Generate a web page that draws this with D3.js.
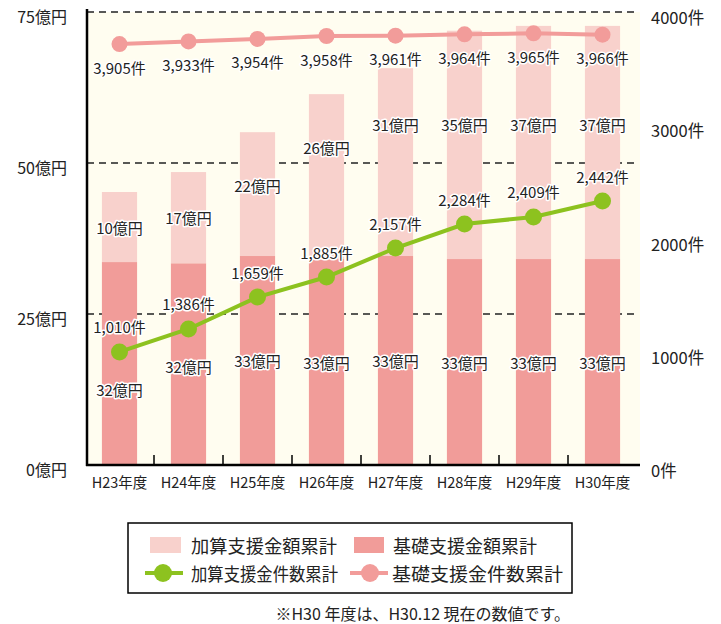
<!DOCTYPE html>
<html>
<head>
<meta charset="utf-8">
<script src="https://cdn.jsdelivr.net/npm/d3@7"></script>
<style>
  body { margin: 0; background: #fff; }
  svg { display: block; font-family: "Noto Sans CJK JP", "Noto Sans", sans-serif; }
  .halo { paint-order: stroke; stroke: #fff; stroke-width: 3px; stroke-linejoin: round; }
</style>
</head>
<body>
<div id="chart"></div>
<script>
// categories and values
const years = ['H23年度', 'H24年度', 'H25年度', 'H26年度', 'H27年度', 'H28年度', 'H29年度', 'H30年度'];

// bar heights as drawn (億円) and the numbers printed on them
const baseAmount = [33.6, 33.4, 34.6, 34.1, 34.6, 34.1, 34.1, 34.1];
const addAmount = [11.6, 15.1, 20.5, 27.3, 31.1, 37.8, 38.6, 38.6];
const baseAmountText = [32, 32, 33, 33, 33, 33, 33, 33];
const addAmountText = [10, 17, 22, 26, 31, 35, 37, 37];

// line points as drawn (件) and the numbers printed next to them
const baseCount = [3717, 3740, 3762, 3788, 3791, 3803, 3812, 3800];
const addCount = [998, 1201, 1483, 1660, 1916, 2128, 2190, 2331];
const baseCountText = [3905, 3933, 3954, 3958, 3961, 3964, 3965, 3966];
const addCountText = [1010, 1386, 1659, 1885, 2157, 2284, 2409, 2442];

const leftTicks = [0, 25, 50, 75];
const rightTicks = [0, 1000, 2000, 3000, 4000];

const legendItems = ['加算支援金額累計', '基礎支援金額累計', '加算支援金件数累計', '基礎支援金件数累計'];
const note = '※H30 年度は、H30.12 現在の数値です。';

const colLight = '#f8d1cc', colDark = '#f19c99', colGreen = '#8dc21f', colPink = '#f29c9a';

const svg = d3.select('#chart').append('svg')
  .attr('width', 721)
  .attr('height', 624);

const x = d3.scaleBand().domain(years).range([85, 637]).paddingInner(0.49).paddingOuter(0.245);
const yL = d3.scaleLinear().domain([0, 75]).range([465, 12]);
const yR = d3.scaleLinear().domain([0, 4000]).range([465, 12]);
const fmt = d3.format(',');

// plot background
svg.append('rect')
  .attr('x', 87).attr('y', yL(75))
  .attr('width', 640 - 87).attr('height', yL(0) - yL(75))
  .attr('fill', '#fffdf0');

// dashed grid
svg.selectAll('.grid')
  .data(leftTicks.filter(d => d > 0))
  .enter().append('line')
  .attr('x1', 87).attr('x2', 639)
  .attr('y1', d => yL(d)).attr('y2', d => yL(d))
  .attr('stroke', '#222').attr('stroke-width', 1.3)
  .attr('stroke-dasharray', '7,5');

// stacked bars
svg.selectAll('.base')
  .data(years).enter().append('rect')
  .attr('x', d => x(d)).attr('width', x.bandwidth())
  .attr('y', (d, i) => yL(baseAmount[i]))
  .attr('height', (d, i) => yL(0) - yL(baseAmount[i]))
  .attr('fill', colDark);

svg.selectAll('.add')
  .data(years).enter().append('rect')
  .attr('x', d => x(d)).attr('width', x.bandwidth())
  .attr('y', (d, i) => yL(baseAmount[i] + addAmount[i]))
  .attr('height', (d, i) => yL(baseAmount[i]) - yL(baseAmount[i] + addAmount[i]))
  .attr('fill', colLight);

// axes
svg.append('line').attr('x1', 87).attr('x2', 87).attr('y1', 9).attr('y2', 466)
  .attr('stroke', '#000').attr('stroke-width', 2.5);
svg.append('line').attr('x1', 86).attr('x2', 640).attr('y1', 465).attr('y2', 465)
  .attr('stroke', '#000').attr('stroke-width', 2.5);
svg.selectAll('.xtick')
  .data(years.slice(1)).enter().append('line')
  .attr('x1', d => x(d) - x.step() * 0.245).attr('x2', d => x(d) - x.step() * 0.245)
  .attr('y1', 455).attr('y2', 465)
  .attr('stroke', '#000').attr('stroke-width', 1.5);

svg.selectAll('.xlab')
  .data(years).enter().append('text')
  .attr('x', d => x(d) + x.bandwidth() / 2).attr('y', 488)
  .attr('text-anchor', 'middle').attr('font-size', 14.5).attr('fill', '#222')
  .text(d => d);

svg.selectAll('.ylab')
  .data(leftTicks).enter().append('text')
  .attr('x', 67).attr('y', d => yL(d) + 11)
  .attr('text-anchor', 'end').attr('font-size', 16).attr('fill', '#222')
  .text(d => d + '億円');

svg.selectAll('.rlab')
  .data(rightTicks).enter().append('text')
  .attr('x', 651).attr('y', d => yR(d) + 12)
  .attr('font-size', 16.5).attr('fill', '#222')
  .text(d => d + '件');

// lines
const cx = d => x(d) + x.bandwidth() / 2;

const pinkLine = d3.line().x(d => cx(d)).y((d, i) => yR(baseCount[i]));
svg.append('path').datum(years).attr('d', pinkLine)
  .attr('fill', 'none').attr('stroke', colPink).attr('stroke-width', 4);
svg.selectAll('.pdot').data(years).enter().append('circle')
  .attr('cx', cx).attr('cy', (d, i) => yR(baseCount[i])).attr('r', 8)
  .attr('fill', colPink);

const greenLine = d3.line().x(d => cx(d)).y((d, i) => yR(addCount[i]));
svg.append('path').datum(years).attr('d', greenLine)
  .attr('fill', 'none').attr('stroke', colGreen).attr('stroke-width', 4);
svg.selectAll('.gdot').data(years).enter().append('circle')
  .attr('cx', cx).attr('cy', (d, i) => yR(addCount[i])).attr('r', 8.5)
  .attr('fill', colGreen);

// value labels
function label(sel) {
  return sel.attr('class', 'halo')
    .attr('text-anchor', 'middle').attr('font-size', 15).attr('fill', '#222')
    .attr('dominant-baseline', 'central');
}

// light-bar labels: centred in the segment, but kept near its top and below the count labels
label(svg.selectAll('.addlab').data(years).enter().append('text'))
  .attr('x', cx)
  .attr('y', (d, i) => {
    const top = yL(baseAmount[i] + addAmount[i]);
    const mid = (yL(baseAmount[i]) + top) / 2;
    return Math.max(124, Math.min(mid, top + 53));
  })
  .text((d, i) => addAmountText[i] + '億円');

label(svg.selectAll('.baselab').data(years).enter().append('text'))
  .attr('x', cx)
  .attr('y', (d, i) => Math.max((yL(0) + yL(baseAmount[i])) / 2, yR(addCount[i]) + 38))
  .text((d, i) => baseAmountText[i] + '億円');

label(svg.selectAll('.pcl').data(years).enter().append('text'))
  .attr('x', cx)
  .attr('y', (d, i) => yR(baseCount[i]) + 23)
  .text((d, i) => fmt(baseCountText[i]) + '件');

label(svg.selectAll('.gcl').data(years).enter().append('text'))
  .attr('x', cx)
  .attr('y', (d, i) => yR(addCount[i]) - 25)
  .text((d, i) => fmt(addCountText[i]) + '件');

// legend
const lg = svg.append('g');
lg.append('rect').attr('x', 128).attr('y', 523).attr('width', 444).attr('height', 70)
  .attr('fill', '#fff').attr('stroke', '#000').attr('stroke-width', 1.5);

lg.append('rect').attr('x', 150).attr('y', 537).attr('width', 31).attr('height', 16).attr('fill', colLight);
lg.append('rect').attr('x', 354).attr('y', 537).attr('width', 30).attr('height', 16).attr('fill', colDark);
lg.append('line').attr('x1', 145).attr('x2', 183).attr('y1', 573).attr('y2', 573)
  .attr('stroke', colGreen).attr('stroke-width', 4);
lg.append('circle').attr('cx', 163).attr('cy', 573).attr('r', 9).attr('fill', colGreen);
lg.append('line').attr('x1', 350).attr('x2', 388).attr('y1', 573).attr('y2', 573)
  .attr('stroke', colPink).attr('stroke-width', 4);
lg.append('circle').attr('cx', 370).attr('cy', 573).attr('r', 9).attr('fill', colPink);

const legendPos = [[191, 545, 146], [393, 545, 144], [191, 573, 147], [392, 573, 171]];
lg.selectAll('.lt').data(legendItems).enter().append('text')
  .attr('x', (d, i) => legendPos[i][0]).attr('y', (d, i) => legendPos[i][1])
  .attr('textLength', (d, i) => legendPos[i][2]).attr('lengthAdjust', 'spacingAndGlyphs')
  .attr('dominant-baseline', 'central')
  .attr('font-size', 18).attr('fill', '#222')
  .text(d => d);

svg.append('text').attr('x', 570).attr('y', 613)
  .attr('text-anchor', 'end').attr('dominant-baseline', 'central')
  .attr('font-size', 16).attr('fill', '#222')
  .text(note);
</script>
</body>
</html>
